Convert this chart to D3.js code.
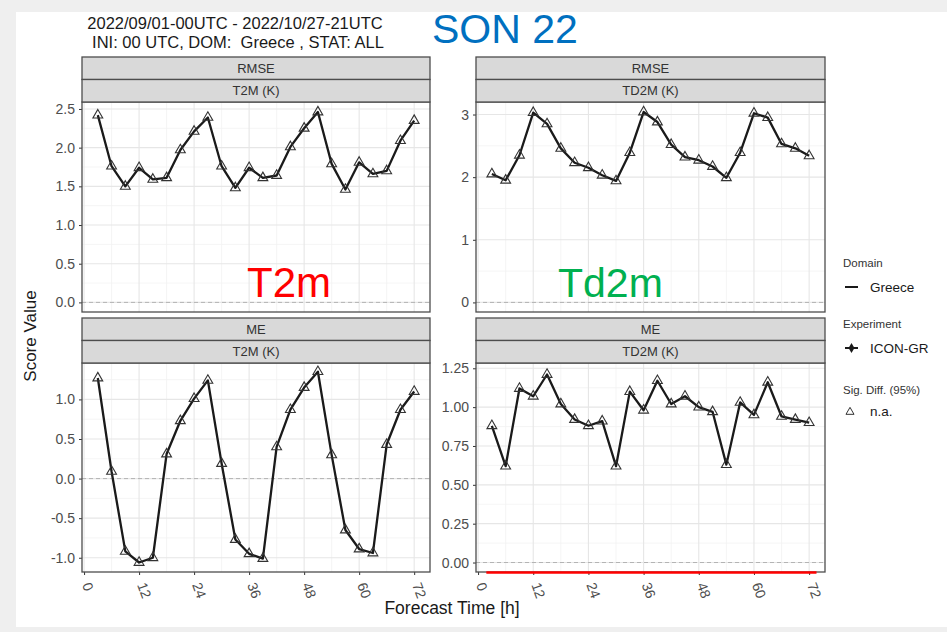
<!DOCTYPE html>
<html>
<head>
<meta charset="utf-8">
<script src="https://cdn.jsdelivr.net/npm/d3@7"></script>
<style>
  html, body { margin: 0; padding: 0; background: #efefef; }
  svg { display: block; }
  text { font-family: "Liberation Sans", Arial, sans-serif; }
  .pre { white-space: pre; }
</style>
</head>
<body>
<svg id="chart" width="947" height="632"></svg>
<script>
// Forecast lead times (h)
const leadHours = [3, 6, 9, 12, 15, 18, 21, 24, 27, 30, 33, 36, 39, 42, 45, 48, 51, 54, 57, 60, 63, 66, 69, 72];

// Scores for ICON-GR over Greece
const rmseT2m  = [2.42, 1.76, 1.50, 1.74, 1.59, 1.61, 1.97, 2.21, 2.39, 1.76, 1.48, 1.74,
                  1.61, 1.64, 2.01, 2.25, 2.46, 1.79, 1.46, 1.81, 1.66, 1.70, 2.09, 2.35];
const rmseTd2m = [2.05, 1.95, 2.35, 3.03, 2.85, 2.46, 2.23, 2.15, 2.03, 1.94, 2.39, 3.04,
                  2.88, 2.52, 2.32, 2.27, 2.17, 1.99, 2.39, 3.02, 2.95, 2.53, 2.46, 2.34];
const meT2m    = [1.27, 0.09, -0.92, -1.06, -1.00, 0.31, 0.73, 1.01, 1.24, 0.19, -0.77, -0.95,
                  -1.01, 0.40, 0.87, 1.15, 1.35, 0.30, -0.65, -0.89, -0.94, 0.43, 0.87, 1.10];
const meTd2m   = [0.88, 0.62, 1.12, 1.07, 1.21, 1.02, 0.92, 0.88, 0.91, 0.62, 1.10, 0.98,
                  1.17, 1.02, 1.07, 1.00, 0.97, 0.63, 1.03, 0.95, 1.16, 0.94, 0.92, 0.90];

// Axis ticks
const xTicks = [0, 12, 24, 36, 48, 60, 72];
const xMinor = [6, 18, 30, 42, 54, 66];
const yTicksRmseT2m  = [0, 0.5, 1.0, 1.5, 2.0, 2.5];
const yLabelsRmseT2m = ["0.0", "0.5", "1.0", "1.5", "2.0", "2.5"];
const yTicksRmseTd2m  = [0, 1, 2, 3];
const yLabelsRmseTd2m = ["0", "1", "2", "3"];
const yTicksMeT2m  = [-1.0, -0.5, 0, 0.5, 1.0];
const yLabelsMeT2m = ["-1.0", "-0.5", "0.0", "0.5", "1.0"];
const yTicksMeTd2m  = [0, 0.25, 0.5, 0.75, 1.0, 1.25];
const yLabelsMeTd2m = ["0.00", "0.25", "0.50", "0.75", "1.00", "1.25"];

// Strip labels
const scoreNames = ["RMSE", "ME"];
const paramNames = ["T2M (K)", "TD2M (K)"];

// Highlighted lead-time span under the ME TD2M panel
const highlightSpan = [1.8, 73.6];

const svg = d3.select("#chart");

// page background card
svg.append("rect").attr("x", 0).attr("y", 0).attr("width", 947).attr("height", 632).attr("fill", "#efefef");
svg.append("rect").attr("x", 16).attr("y", 12).attr("width", 931).attr("height", 615).attr("fill", "#ffffff");

// facet layout
const cols = [{x0: 82, x1: 430}, {x0: 476, x1: 825}];
const rows = [{s0: 57, s1: 79.5, s2: 102, y0: 102, y1: 312}, {s0: 318, s1: 340.5, s2: 363, y0: 363, y1: 572}];

const panels = [
  {r: 0, c: 0, values: rmseT2m,  ydom: [-0.124, 2.59], ticks: yTicksRmseT2m,  labels: yLabelsRmseT2m},
  {r: 0, c: 1, values: rmseTd2m, ydom: [-0.153, 3.20], ticks: yTicksRmseTd2m, labels: yLabelsRmseTd2m},
  {r: 1, c: 0, values: meT2m,    ydom: [-1.18, 1.46],  ticks: yTicksMeT2m,    labels: yLabelsMeT2m},
  {r: 1, c: 1, values: meTd2m,   ydom: [-0.061, 1.284], ticks: yTicksMeTd2m,  labels: yLabelsMeTd2m}
];

const xDomain = [-0.45, 75.45];

panels.forEach(p => {
  const col = cols[p.c], row = rows[p.r];
  const x = d3.scaleLinear().domain(xDomain).range([col.x0, col.x1]);
  const y = d3.scaleLinear().domain(p.ydom).range([row.y1, row.y0]);
  const g = svg.append("g");

  // panel background
  g.append("rect").attr("x", col.x0).attr("y", row.y0)
    .attr("width", col.x1 - col.x0).attr("height", row.y1 - row.y0).attr("fill", "#fff");

  // minor grid
  const step = p.ticks[1] - p.ticks[0];
  const yMinor = [];
  for (let i = -1; i < p.ticks.length; i++) {
    const v = p.ticks[0] + step * (i + 0.5);
    if (v > p.ydom[0] && v < p.ydom[1]) yMinor.push(v);
  }
  g.selectAll(null).data(yMinor).join("line")
    .attr("x1", col.x0).attr("x2", col.x1).attr("y1", d => y(d)).attr("y2", d => y(d))
    .attr("stroke", "#f2f2f2").attr("stroke-width", 0.8);
  g.selectAll(null).data(xMinor).join("line")
    .attr("y1", row.y0).attr("y2", row.y1).attr("x1", d => x(d)).attr("x2", d => x(d))
    .attr("stroke", "#f2f2f2").attr("stroke-width", 0.8);

  // major grid
  g.selectAll(null).data(p.ticks).join("line")
    .attr("x1", col.x0).attr("x2", col.x1).attr("y1", d => y(d)).attr("y2", d => y(d))
    .attr("stroke", "#e6e6e6").attr("stroke-width", 1.1);
  g.selectAll(null).data(xTicks).join("line")
    .attr("y1", row.y0).attr("y2", row.y1).attr("x1", d => x(d)).attr("x2", d => x(d))
    .attr("stroke", "#e6e6e6").attr("stroke-width", 1.1);

  // zero reference
  g.append("line").attr("x1", col.x0).attr("x2", col.x1).attr("y1", y(0)).attr("y2", y(0))
    .attr("stroke", "#b3b3b3").attr("stroke-width", 1).attr("stroke-dasharray", "4,3");

  // score line
  const line = d3.line().x((d, i) => x(leadHours[i])).y(d => y(d));
  g.append("path").datum(p.values).attr("d", line)
    .attr("fill", "none").attr("stroke", "#1a1a1a").attr("stroke-width", 2.3).attr("stroke-linejoin", "round");

  // triangle markers
  const tri = d3.symbol().type(d3.symbolTriangle).size(42);
  g.selectAll(null).data(p.values).join("path")
    .attr("d", tri)
    .attr("transform", (d, i) => `translate(${x(leadHours[i])},${y(d)})`)
    .attr("fill", "none").attr("stroke", "#333").attr("stroke-width", 1.1);

  // y axis
  const yAxis = d3.axisLeft(y).tickValues(p.ticks).tickSize(3).tickPadding(4)
    .tickFormat((d, i) => p.labels[i]);
  const ya = g.append("g").attr("transform", `translate(${col.x0},0)`).call(yAxis);
  ya.select(".domain").remove();
  ya.selectAll(".tick line").attr("stroke", "#333");
  ya.selectAll(".tick text").attr("fill", "#4d4d4d").attr("font-size", 14)
    .attr("font-family", "Liberation Sans, Arial, sans-serif");

  // x axis on bottom row
  if (p.r === 1) {
    const xAxis = d3.axisBottom(x).tickValues(xTicks).tickSize(3).tickFormat(d3.format("d"));
    const xa = g.append("g").attr("transform", `translate(0,${row.y1})`).call(xAxis);
    xa.select(".domain").remove();
    xa.selectAll(".tick line").attr("stroke", "#333");
    xa.selectAll(".tick text")
      .attr("fill", "#4d4d4d").attr("font-size", 14)
      .attr("font-family", "Liberation Sans, Arial, sans-serif")
      .attr("text-anchor", "start")
      .attr("x", 0).attr("y", 0).attr("dy", "0.35em")
      .attr("transform", "translate(2,11) rotate(70)");
  }

  // panel border
  g.append("rect").attr("x", col.x0).attr("y", row.y0)
    .attr("width", col.x1 - col.x0).attr("height", row.y1 - row.y0)
    .attr("fill", "none").attr("stroke", "#4d4d4d").attr("stroke-width", 1.3);

  // facet strips
  [[row.s0, row.s1, scoreNames[p.r]], [row.s1, row.s2, paramNames[p.c]]].forEach(s => {
    g.append("rect").attr("x", col.x0).attr("y", s[0]).attr("width", col.x1 - col.x0).attr("height", s[1] - s[0])
      .attr("fill", "#d9d9d9").attr("stroke", "#4d4d4d").attr("stroke-width", 1.3);
    g.append("text").attr("x", (col.x0 + col.x1) / 2).attr("y", (s[0] + s[1]) / 2).attr("dy", "0.36em")
      .attr("text-anchor", "middle").attr("font-size", 13).attr("fill", "#333").text(s[2]);
  });

  if (p.r === 1 && p.c === 1) {
    g.append("line").attr("x1", x(highlightSpan[0])).attr("x2", x(highlightSpan[1]))
      .attr("y1", row.y1 + 0.5).attr("y2", row.y1 + 0.5)
      .attr("stroke", "#ff0000").attr("stroke-width", 2.6);
  }
});

// titles
svg.append("text").attr("x", 235).attr("y", 28.5).attr("text-anchor", "middle")
  .attr("font-size", 16.5).attr("fill", "#1a1a1a").attr("class", "pre")
  .text("2022/09/01-00UTC - 2022/10/27-21UTC");
svg.append("text").attr("x", 238).attr("y", 47.5).attr("text-anchor", "middle")
  .attr("font-size", 16.5).attr("fill", "#1a1a1a").attr("class", "pre")
  .text("INI: 00 UTC, DOM:  Greece , STAT: ALL");

// axis titles
svg.append("text").attr("transform", "translate(36,336) rotate(-90)").attr("text-anchor", "middle")
  .attr("font-size", 17).attr("fill", "#1a1a1a").text("Score Value");
svg.append("text").attr("x", 452).attr("y", 614).attr("text-anchor", "middle")
  .attr("font-size", 17.5).attr("fill", "#1a1a1a").text("Forecast Time [h]");

// season and variable captions
svg.append("text").attr("x", 432).attr("y", 43).attr("font-family", "Noto Sans")
  .attr("font-size", 41).attr("fill", "#0070c0").text("SON 22");
svg.append("text").attr("x", 247).attr("y", 297).attr("font-family", "Noto Sans")
  .attr("font-size", 42).attr("fill", "#ff0000").text("T2m");
svg.append("text").attr("x", 558).attr("y", 297).attr("font-family", "Noto Sans")
  .attr("font-size", 41).attr("fill", "#00b050").text("Td2m");

// legend
const lg = svg.append("g");
const legendTitles = [["Domain", 267], ["Experiment", 328], ["Sig. Diff. (95%)", 394]];
legendTitles.forEach(t => {
  lg.append("text").attr("x", 843).attr("y", t[1]).attr("font-size", 11.5).attr("fill", "#333").text(t[0]);
});
lg.append("line").attr("x1", 845).attr("x2", 858).attr("y1", 287).attr("y2", 287)
  .attr("stroke", "#1a1a1a").attr("stroke-width", 2);
lg.append("text").attr("x", 870).attr("y", 292).attr("font-size", 13.5).attr("fill", "#1a1a1a").text("Greece");
lg.append("line").attr("x1", 845).attr("x2", 858).attr("y1", 348).attr("y2", 348)
  .attr("stroke", "#1a1a1a").attr("stroke-width", 2);
lg.append("path").attr("d", d3.symbol().type(d3.symbolDiamond).size(30))
  .attr("transform", "translate(851.5,348)").attr("fill", "#1a1a1a");
lg.append("text").attr("x", 870).attr("y", 353).attr("font-size", 13.5).attr("fill", "#1a1a1a").text("ICON-GR");
lg.append("path").attr("d", d3.symbol().type(d3.symbolTriangle).size(28))
  .attr("transform", "translate(850,412)").attr("fill", "none").attr("stroke", "#333").attr("stroke-width", 1);
lg.append("text").attr("x", 870).attr("y", 416).attr("font-size", 13.5).attr("fill", "#1a1a1a").text("n.a.");
</script>
</body>
</html>
